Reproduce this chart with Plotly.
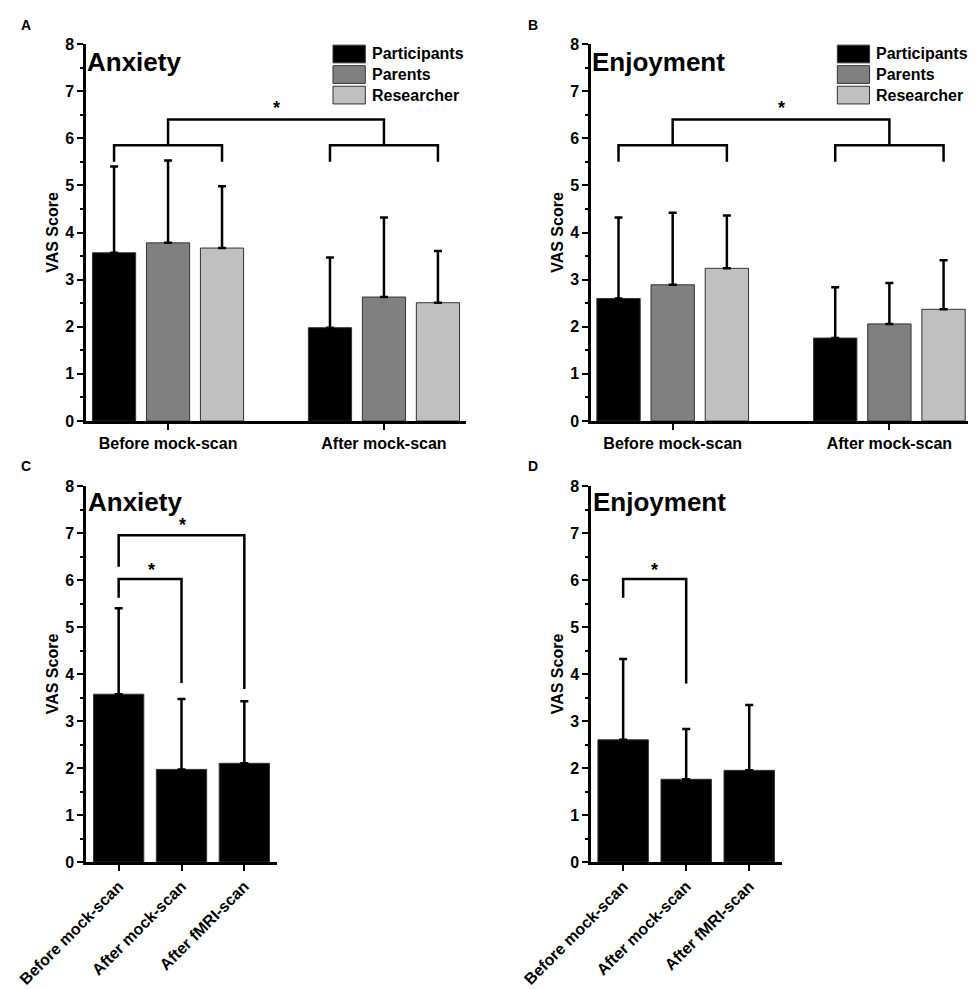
import plotly.graph_objects as go

# ---- data ----
GROUPS = ["Before mock-scan", "After mock-scan"]
TIMEPOINTS = ["Before mock-scan", "After mock-scan", "After fMRI-scan"]
RATERS = ["Participants", "Parents", "Researcher"]

# panel A: anxiety by rater (mean, upper end of error bar) per group
ANX_MEAN = [[3.57, 1.98], [3.78, 2.63], [3.67, 2.51]]
ANX_UPPER = [[5.40, 3.47], [5.53, 4.32], [4.98, 3.61]]
# panel B: enjoyment by rater
ENJ_MEAN = [[2.60, 1.76], [2.89, 2.06], [3.24, 2.37]]
ENJ_UPPER = [[4.32, 2.84], [4.42, 2.93], [4.36, 3.41]]
# panels C/D: participants over three timepoints
ANX_TIME_MEAN = [3.57, 1.97, 2.10]
ANX_TIME_UPPER = [5.40, 3.47, 3.42]
ENJ_TIME_MEAN = [2.60, 1.76, 1.95]
ENJ_TIME_UPPER = [4.32, 2.83, 3.34]

# ---- styling ----
RATER_COLORS = ["#000000", "#808080", "#c0c0c0"]
FONT = "Liberation Sans, Arial, sans-serif"
PAGE_PAD = 8  # default body margin of the html page
W, H = 976 - PAGE_PAD, 989 - PAGE_PAD
BAR_W = 0.2
BAR_OFFSETS = [-0.25, 0.0, 0.25]
LINE_W = 2.5


def _dom_x(p0, p1):
    return [(p0 - PAGE_PAD) / W, (p1 - PAGE_PAD) / W]


def _dom_y(top, bottom):
    return [1 - (bottom - PAGE_PAD) / H, 1 - (top - PAGE_PAD) / H]


def _ref(axis, ax):
    return (axis if ax == "" else axis + ax) + " domain"


fig = go.Figure()


def _err(mean, upper):
    return [u - m for m, u in zip(mean, upper)]


def add_bracket(ax, x0, x1, y, leg0, leg1):
    fig.add_trace(
        go.Scatter(
            x=[x0, x0, x1, x1], y=[leg0, y, y, leg1], mode="lines",
            line={"color": "black", "width": LINE_W}, hoverinfo="skip",
            showlegend=False, xaxis="x" + ax, yaxis="y" + ax,
        )
    )


def add_star(ax, x, y):
    fig.add_annotation(
        text="*", x=x, y=y, xref="x" + ax, yref="y" + ax, showarrow=False,
        font={"family": FONT, "size": 18, "color": "black", "weight": "bold"},
    )


def add_rater_panel(ax, means, uppers):
    for i, rater in enumerate(RATERS):
        xs = [g + BAR_OFFSETS[i] for g in range(len(GROUPS))]
        fig.add_trace(
            go.Bar(
                x=xs, y=means[i], width=BAR_W, name=rater,
                marker={"color": RATER_COLORS[i], "line": {"color": "#333333", "width": 1}},
                error_y={"type": "data", "array": _err(means[i], uppers[i]),
                         "arrayminus": [0] * len(GROUPS), "symmetric": False,
                         "color": "black", "thickness": LINE_W, "width": 4},
                showlegend=False, xaxis="x" + ax, yaxis="y" + ax,
            )
        )
    for g in range(len(GROUPS)):
        add_bracket(ax, g + BAR_OFFSETS[0], g + BAR_OFFSETS[-1], 5.85, 5.5, 5.5)
    add_bracket(ax, 0, 1, 6.4, 5.85, 5.85)
    add_star(ax, 0.5, 6.64)
    # legend drawn as boxes so the swatches match the original size
    ref_x, ref_y = _ref("x", ax), _ref("y", ax)
    for i, rater in enumerate(RATERS):
        top = 0.997 - i * 0.0545
        fig.add_shape(
            type="rect", xref=ref_x, yref=ref_y, x0=0.65, x1=0.735, y0=top - 0.047, y1=top,
            fillcolor=RATER_COLORS[i], line={"color": "#333333", "width": 1},
        )
        fig.add_annotation(
            text=rater, xref=ref_x, yref=ref_y, x=0.748, y=top - 0.0235,
            xanchor="left", yanchor="middle", showarrow=False,
            font={"family": FONT, "size": 16, "color": "black", "weight": "bold"},
        )


def add_time_panel(ax, means, uppers):
    fig.add_trace(
        go.Bar(
            x=list(range(len(TIMEPOINTS))), y=means, width=0.8,
            marker={"color": "black", "line": {"color": "#333333", "width": 1}},
            error_y={"type": "data", "array": _err(means, uppers),
                     "arrayminus": [0] * len(TIMEPOINTS), "symmetric": False,
                     "color": "black", "thickness": LINE_W, "width": 4},
            showlegend=False, xaxis="x" + ax, yaxis="y" + ax,
        )
    )


add_rater_panel("", ANX_MEAN, ANX_UPPER)
add_rater_panel("2", ENJ_MEAN, ENJ_UPPER)
add_time_panel("3", ANX_TIME_MEAN, ANX_TIME_UPPER)
add_time_panel("4", ENJ_TIME_MEAN, ENJ_TIME_UPPER)

add_bracket("3", 0, 2, 6.95, 6.28, 3.68)
add_bracket("3", 0, 1, 6.02, 5.62, 3.81)
add_star("3", 0.52, 6.22)
add_star("3", 1.02, 7.16)
add_bracket("4", 0, 1, 6.02, 5.62, 3.8)
add_star("4", 0.5, 6.22)

tick_font = {"family": FONT, "size": 16, "color": "black", "weight": "bold"}
yaxis_style = dict(
    range=[0, 8], tickvals=list(range(9)), ticks="outside", ticklen=6, tickwidth=2,
    tickcolor="black", showline=True, linecolor="black", linewidth=LINE_W,
    showgrid=False, zeroline=False, tickfont=tick_font, automargin=False,
    minor={"dtick": 0.5, "ticks": "outside", "ticklen": 3, "tickwidth": 2, "tickcolor": "black"},
    title={"text": "VAS Score", "font": {"family": FONT, "size": 16, "color": "black", "weight": "bold"},
           "standoff": 3},
)
xaxis_style = dict(
    ticks="outside", ticklen=6, tickwidth=2, tickcolor="black", showline=True, automargin=False,
    linecolor="black", linewidth=LINE_W, showgrid=False, zeroline=False, tickfont=tick_font,
)

fig.update_layout(
    xaxis=dict(xaxis_style, domain=_dom_x(86, 466), range=[-0.38, 1.38],
               tickvals=list(range(len(GROUPS))), ticktext=GROUPS, anchor="y"),
    yaxis=dict(yaxis_style, domain=_dom_y(44, 421), anchor="x"),
    xaxis2=dict(xaxis_style, domain=_dom_x(591, 970), range=[-0.377, 1.372],
                tickvals=list(range(len(GROUPS))), ticktext=GROUPS, anchor="y2"),
    yaxis2=dict(yaxis_style, domain=_dom_y(44, 421), anchor="x2"),
    xaxis3=dict(xaxis_style, domain=_dom_x(86, 277), range=[-0.52, 2.52], tickangle=-45,
                tickvals=list(range(len(TIMEPOINTS))), ticktext=TIMEPOINTS, anchor="y3"),
    yaxis3=dict(yaxis_style, domain=_dom_y(486, 862), anchor="x3"),
    xaxis4=dict(xaxis_style, domain=_dom_x(591, 782), range=[-0.51, 2.52], tickangle=-45,
                tickvals=list(range(len(TIMEPOINTS))), ticktext=TIMEPOINTS, anchor="y4"),
    yaxis4=dict(yaxis_style, domain=_dom_y(486, 862), anchor="x4"),
    barmode="overlay",
    width=W, height=H,
    margin={"l": 0, "r": 0, "t": 0, "b": 0, "autoexpand": False},
    plot_bgcolor="white", paper_bgcolor="white",
    font={"family": FONT, "color": "black"},
    showlegend=False,
)

# panel titles and letters
for ax, title, ytop in [("", "Anxiety", 0.952), ("2", "Enjoyment", 0.952),
                        ("3", "Anxiety", 0.957), ("4", "Enjoyment", 0.957)]:
    fig.add_annotation(
        text=title, xref=_ref("x", ax), yref=_ref("y", ax), x=-0.002, y=ytop,
        xanchor="left", yanchor="middle", showarrow=False,
        font={"family": FONT, "size": 26, "color": "black", "weight": "bold"},
    )

for letter, px, py in [("A", 26, 25), ("B", 533, 25), ("C", 26, 466), ("D", 533, 466)]:
    fig.add_annotation(
        text=letter, xref="paper", yref="paper",
        x=(px - PAGE_PAD) / W, y=1 - (py - PAGE_PAD) / H,
        xanchor="center", yanchor="middle", showarrow=False,
        font={"family": FONT, "size": 14, "color": "black", "weight": "bold"},
    )

fig.write_html("out.html")
